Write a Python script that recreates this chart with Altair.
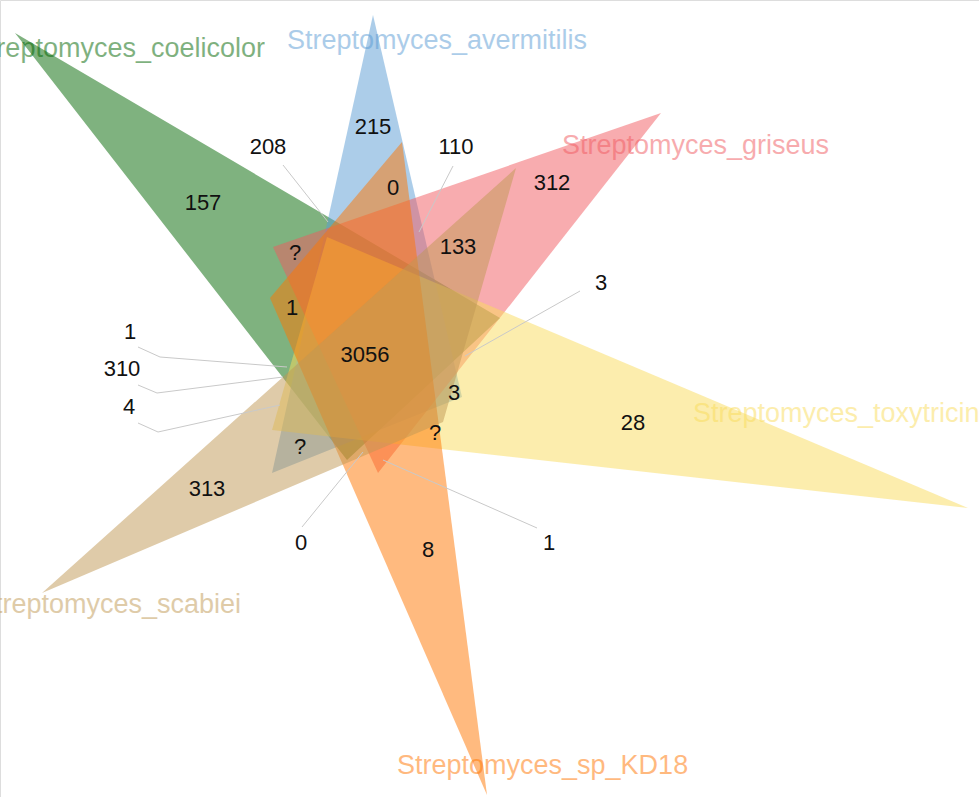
import altair as alt
import pandas as pd

W, H = 979, 797

# Six sets (draw order), colours
set_names = ["Streptomyces_coelicolor", "Streptomyces_avermitilis", "Streptomyces_griseus",
             "Streptomyces_toxytricini", "Streptomyces_sp_KD18", "Streptomyces_scabiei"]
set_colors = ["rgb(0,102,0)", "rgb(90,155,212)", "rgb(241,90,96)",
              "rgb(250,220,91)", "rgb(255,117,0)", "rgb(192,152,83)"]

# Triangle vertices, one triangle per set
tri_x = [[15, 500, 347], [373, 272, 462], [661, 273, 378],
         [968, 327, 272], [487, 270, 402], [42, 516, 443]]
tri_y = [[33, 318, 460], [15, 473, 397], [113, 247, 473],
         [508, 237, 430], [795, 298, 142], [593, 168, 422]]

# Set labels
label_x = [265, 287, 562, 693, 397, 241]
label_y = [57, 49, 154, 422, 774, 613]
label_align = ["right", "left", "left", "left", "left", "right"]

# Region counts
num_text = ["157", "208", "215", "110", "0", "312", "133", "?", "3", "1", "3056",
            "1", "310", "4", "3", "28", "?", "?", "313", "0", "8", "1"]
num_x = [203, 268, 373, 456, 393, 552, 458, 295, 601, 292, 365,
         130, 122, 129, 454, 633, 435, 300, 207, 301, 428, 549]
num_y = [203, 147, 127, 147, 188, 183, 247, 253, 283, 308, 355,
         332, 369, 407, 393, 423, 433, 447, 489, 543, 550, 543]

# Leader lines (polylines)
lead_x = [[283, 328], [453, 419], [580, 465], [138, 160, 287], [138, 157, 283],
          [138, 158, 280], [302, 363], [537, 383]]
lead_y = [[165, 222], [166, 232], [291, 356], [347, 357, 367], [385, 393, 377],
          [423, 432, 405], [527, 452], [528, 460]]

xs = alt.Scale(domain=[0, W], nice=False, zero=False)
ys = alt.Scale(domain=[0, H], nice=False, zero=False, reverse=True)


def tri_area_rows(name, vx, vy):
    pts = sorted(zip(vx, vy))
    (ax, ay), (bx, by), (cx, cy) = pts
    t = 0.0 if cx == ax else (bx - ax) / (cx - ax)
    other = ay + t * (cy - ay)
    return [
        {"set": name, "x": ax, "y": ay, "y2": ay},
        {"set": name, "x": bx, "y": by, "y2": other},
        {"set": name, "x": cx, "y": cy, "y2": cy},
    ]


layers = []
for i, name in enumerate(set_names):
    df = pd.DataFrame(tri_area_rows(name, tri_x[i], tri_y[i]))
    layers.append(
        alt.Chart(df).mark_area(orient="vertical", fill=set_colors[i], fillOpacity=0.5,
                                strokeWidth=0, interpolate="linear")
        .encode(x=alt.X("x:Q", scale=xs, axis=None),
                y=alt.Y("y:Q", scale=ys, axis=None),
                y2="y2:Q")
    )

# leader lines
lead_rows = []
for k, (lx, ly) in enumerate(zip(lead_x, lead_y)):
    for j, (px, py) in enumerate(zip(lx, ly)):
        lead_rows.append({"id": k, "o": j, "x": px, "y": py})
lead_df = pd.DataFrame(lead_rows)
layers.append(
    alt.Chart(lead_df).mark_line(color="#c9c9c9", strokeWidth=1)
    .encode(x=alt.X("x:Q", scale=xs, axis=None), y=alt.Y("y:Q", scale=ys, axis=None),
            detail="id:N", order="o:Q")
)

# numbers
num_df = pd.DataFrame({"t": num_text, "x": num_x, "y": num_y})
layers.append(
    alt.Chart(num_df).mark_text(font="Liberation Sans", fontSize=22, color="#111111",
                                align="center", baseline="middle")
    .encode(x=alt.X("x:Q", scale=xs, axis=None), y=alt.Y("y:Q", scale=ys, axis=None), text="t:N")
)

# set labels
for i, name in enumerate(set_names):
    ldf = pd.DataFrame({"t": [name], "x": [label_x[i]], "y": [label_y[i]]})
    layers.append(
        alt.Chart(ldf).mark_text(font="Liberation Sans", fontSize=27, color=set_colors[i],
                                 opacity=0.5, align=label_align[i], baseline="alphabetic")
        .encode(x=alt.X("x:Q", scale=xs, axis=None), y=alt.Y("y:Q", scale=ys, axis=None), text="t:N")
    )

chart = (
    alt.layer(*layers)
    .properties(width=W, height=H, padding=0, autosize=alt.AutoSizeParams(type="none"))
    .configure_view(stroke=None, strokeWidth=0)
    .configure(background="white")
)

chart.save("out.html", embed_options={"renderer": "svg", "actions": False})
